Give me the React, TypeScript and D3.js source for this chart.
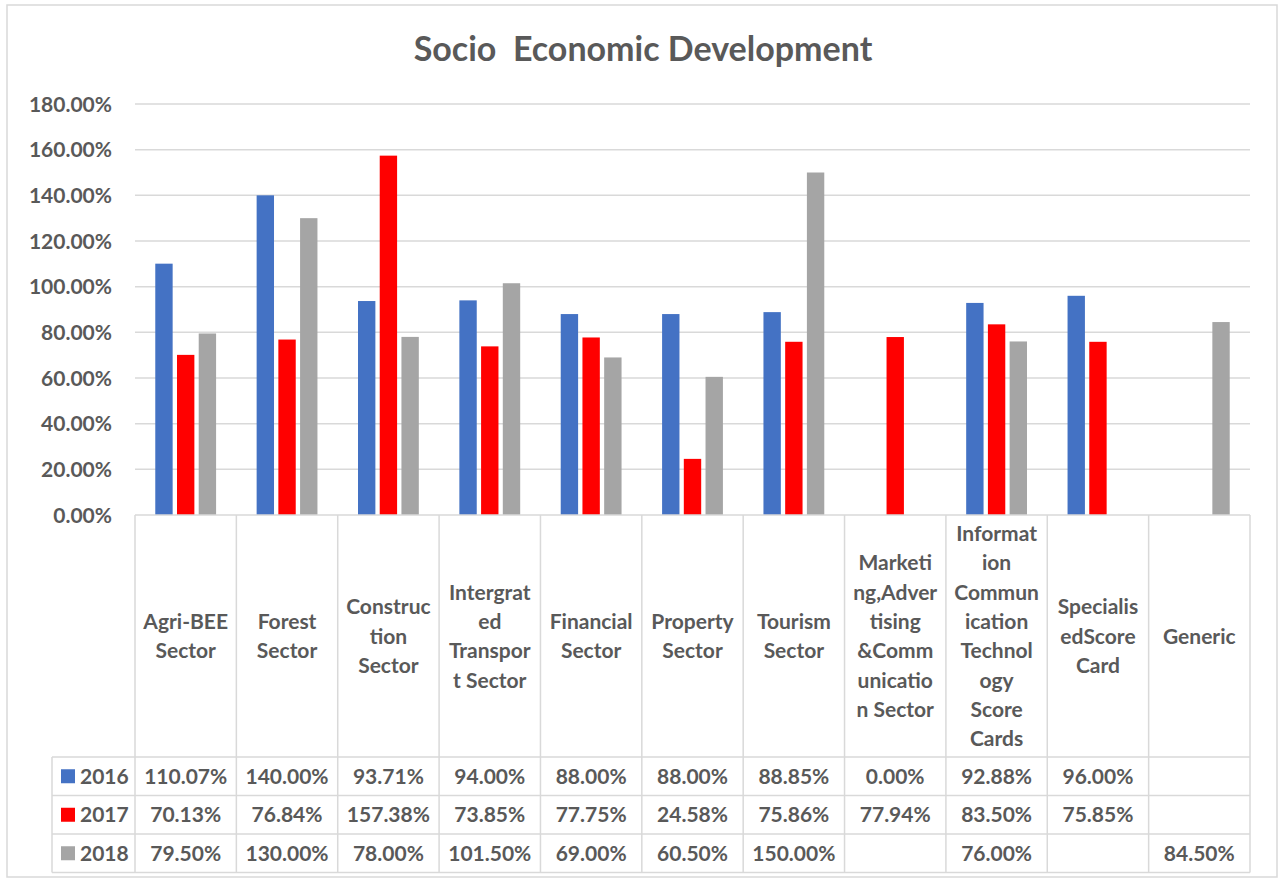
import React from "react";
import * as d3 from "d3";

const categories: string[][] = [
  ["Agri-BEE", "Sector"],
  ["Forest", "Sector"],
  ["Construc", "tion", "Sector"],
  ["Intergrat", "ed", "Transpor", "t Sector"],
  ["Financial", "Sector"],
  ["Property", "Sector"],
  ["Tourism", "Sector"],
  ["Marketi", "ng,Adver", "tising", "&Comm", "unicatio", "n Sector"],
  ["Informat", "ion", "Commun", "ication", "Technol", "ogy", "Score", "Cards"],
  ["Specialis", "edScore", "Card"],
  ["Generic"],
];
const seriesNames = ["2016", "2017", "2018"];
const v2016: (number | null)[] = [110.07, 140.0, 93.71, 94.0, 88.0, 88.0, 88.85, 0.0, 92.88, 96.0, null];
const v2017: (number | null)[] = [70.13, 76.84, 157.38, 73.85, 77.75, 24.58, 75.86, 77.94, 83.5, 75.85, null];
const v2018: (number | null)[] = [79.5, 130.0, 78.0, 101.5, 69.0, 60.5, 150.0, null, 76.0, null, 84.5];
const yTicks = [0, 20, 40, 60, 80, 100, 120, 140, 160, 180];
const colors = ["#4472C4", "#FF0000", "#A5A5A5"];

const W = 1281;
const H = 882;
const plotL = 135;
const plotR = 1250;
const plotT = 104;
const plotB = 515;
const rowYs = [757, 795.5, 834, 872.5];
const legendL = 52;
const FONT = "Lato, 'Open Sans', sans-serif";
const TXT = "#595959";
const GRID = "#D9D9D9";

export default function App() {
  const series = [v2016, v2017, v2018];
  const x = d3.scaleBand<number>().domain(d3.range(categories.length)).range([plotL, plotR]).padding(0);
  const y = d3.scaleLinear().domain([0, 180]).range([plotB, plotT]);
  const bw = x.bandwidth();
  const inner = d3.scaleBand<number>().domain([0, 1, 2]).range([bw * 0.2, bw * 0.8]).paddingInner(0.2);
  const fmt = (v: number | null) => (v === null ? "" : v.toFixed(2) + "%");
  const headerMid = (plotB + rowYs[0]) / 2;
  const lh = 29.3;

  return (
    <svg width={W} height={H} style={{ position: "absolute", left: 0, top: 0, background: "#fff" }} fontFamily={FONT}>
      <rect x={7} y={5} width={1270} height={872} fill="#fff" stroke={GRID} strokeWidth={1.5} />
      <text x={643} y={61} textAnchor="middle" fontSize={34} fontWeight="bold" fill={TXT}>
        {"Socio\u00a0 Economic Development"}
      </text>
      {yTicks.map((t) => (
        <g key={t}>
          {t > 0 && <line x1={plotL} x2={plotR} y1={y(t)} y2={y(t)} stroke={GRID} strokeWidth={1.5} />}
          <text x={112} y={y(t)} dy="0.36em" textAnchor="end" fontSize={21} fontWeight="bold" fill={TXT}>
            {t.toFixed(2) + "%"}
          </text>
        </g>
      ))}
      {series.map((s, si) =>
        s.map((v, ci) =>
          v === null || v === 0 ? null : (
            <rect
              key={si + "-" + ci}
              x={(x(ci) as number) + (inner(si) as number)}
              y={y(v)}
              width={inner.bandwidth()}
              height={plotB - y(v)}
              fill={colors[si]}
            />
          )
        )
      )}
      <line x1={plotL} x2={plotR} y1={plotB} y2={plotB} stroke={GRID} strokeWidth={1.5} />
      {d3.range(categories.length + 1).map((i) => {
        const xx = i < categories.length ? (x(i) as number) : plotR;
        return <line key={"v" + i} x1={xx} x2={xx} y1={plotB} y2={rowYs[3]} stroke={GRID} strokeWidth={1.5} />;
      })}
      <line x1={legendL} x2={legendL} y1={rowYs[0]} y2={rowYs[3]} stroke={GRID} strokeWidth={1.5} />
      {rowYs.map((ry, i) => (
        <line key={"h" + i} x1={legendL} x2={plotR} y1={ry} y2={ry} stroke={GRID} strokeWidth={1.5} />
      ))}
      {categories.map((lines, ci) => {
        const cx = (x(ci) as number) + bw / 2;
        const start = headerMid - ((lines.length - 1) * lh) / 2;
        return (
          <text key={"c" + ci} textAnchor="middle" fontSize={21} fontWeight="bold" fill={TXT}>
            {lines.map((ln, li) => (
              <tspan key={li} x={cx} y={start + li * lh} dy="0.36em">
                {ln}
              </tspan>
            ))}
          </text>
        );
      })}
      {series.map((s, si) => {
        const cy = (rowYs[si] + rowYs[si + 1]) / 2;
        return (
          <g key={"row" + si}>
            <rect x={61} y={cy - 7} width={14} height={14} fill={colors[si]} />
            <text x={80} y={cy} dy="0.36em" fontSize={21} fontWeight="bold" fill={TXT}>
              {seriesNames[si]}
            </text>
            {s.map((v, ci) => (
              <text key={ci} x={(x(ci) as number) + bw / 2} y={cy} dy="0.36em" textAnchor="middle" fontSize={21} fontWeight="bold" fill={TXT}>
                {fmt(v)}
              </text>
            ))}
          </g>
        );
      })}
    </svg>
  );
}
